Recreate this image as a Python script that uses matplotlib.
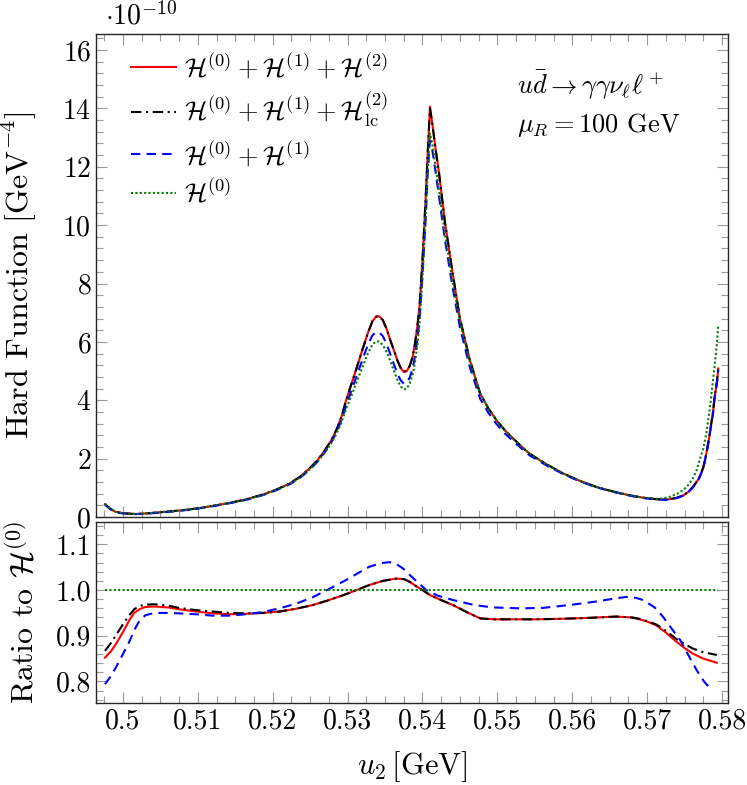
import numpy as np
import matplotlib
matplotlib.use("Agg")
import matplotlib.pyplot as plt
from matplotlib.ticker import MultipleLocator, FormatStrFormatter, FixedLocator

plt.rcParams['font.family'] = 'serif'
plt.rcParams['font.serif'] = ['cmr10']
plt.rcParams['mathtext.fontset'] = 'cm'
plt.rcParams['axes.formatter.use_mathtext'] = True
plt.rcParams['axes.unicode_minus'] = False

# ---- top panel: hard function (units of 1e-10 GeV^-4) ----
u_top = [0.4976, 0.4983, 0.4990, 0.5000, 0.5017, 0.5035, 0.5053, 0.5075, 0.5098, 0.5120,
         0.5142, 0.5165, 0.5187, 0.5205, 0.5222, 0.5236, 0.5249, 0.5260, 0.5270, 0.5278,
         0.5285, 0.5292, 0.5298, 0.5305, 0.5312, 0.5320, 0.5327, 0.5333, 0.5338, 0.5342,
         0.5347, 0.5352, 0.5357, 0.5362, 0.5367, 0.5371, 0.5375, 0.5379, 0.5383, 0.5387,
         0.5390, 0.5393, 0.5396, 0.5400, 0.5404, 0.5407, 0.5410, 0.5413, 0.5417, 0.5422,
         0.5430, 0.5440, 0.5450, 0.5463, 0.5477, 0.5488, 0.5499, 0.5510, 0.5521, 0.5532,
         0.5543, 0.5566, 0.5588, 0.5610, 0.5632, 0.5655, 0.5677, 0.5695, 0.5712, 0.5722,
         0.5730, 0.5740, 0.5748, 0.5755, 0.5761, 0.5766, 0.5770, 0.5775, 0.5779, 0.5782,
         0.5785, 0.5788, 0.5790, 0.5793, 0.5795]

h_full = [0.44, 0.28, 0.18, 0.13, 0.10, 0.13, 0.17, 0.22, 0.29, 0.38,
          0.48, 0.61, 0.77, 0.94, 1.14, 1.37, 1.66, 1.95, 2.30, 2.62,
          2.98, 3.45, 4.00, 4.55, 5.10, 5.75, 6.30, 6.70, 6.87, 6.88,
          6.75, 6.45, 6.06, 5.70, 5.33, 5.10, 4.97, 5.00, 5.18, 5.50,
          5.95, 6.50, 7.20, 8.80, 10.8, 12.5, 14.06, 13.5, 12.7, 11.8,
          10.1, 8.40, 6.80, 5.40, 4.23, 3.72, 3.31, 2.97, 2.69, 2.42,
          2.17, 1.80, 1.49, 1.24, 1.03, 0.87, 0.74, 0.66, 0.61, 0.60,
          0.61, 0.66, 0.74, 0.86, 1.03, 1.20, 1.37, 1.70, 2.17, 2.60,
          3.10, 3.60, 4.10, 4.60, 5.09]

h_lc = [0.44, 0.28, 0.18, 0.13, 0.10, 0.13, 0.17, 0.22, 0.29, 0.38,
        0.48, 0.61, 0.77, 0.94, 1.14, 1.37, 1.66, 1.95, 2.30, 2.62,
        2.98, 3.45, 4.00, 4.55, 5.10, 5.75, 6.30, 6.70, 6.86, 6.87,
        6.75, 6.45, 6.06, 5.70, 5.33, 5.10, 4.98, 5.01, 5.18, 5.50,
        5.95, 6.50, 7.20, 8.80, 10.8, 12.5, 14.0, 13.5, 12.7, 11.8,
        10.1, 8.40, 6.80, 5.40, 4.23, 3.72, 3.31, 2.97, 2.69, 2.42,
        2.17, 1.80, 1.49, 1.24, 1.03, 0.87, 0.74, 0.66, 0.61, 0.60,
        0.61, 0.66, 0.74, 0.86, 1.03, 1.20, 1.37, 1.70, 2.17, 2.60,
        3.10, 3.60, 4.10, 4.60, 5.09]

h_nlo = [0.42, 0.27, 0.17, 0.12, 0.10, 0.12, 0.16, 0.21, 0.28, 0.37,
         0.47, 0.59, 0.75, 0.92, 1.11, 1.33, 1.61, 1.90, 2.24, 2.55,
         2.90, 3.33, 3.82, 4.32, 4.83, 5.40, 5.90, 6.22, 6.34, 6.33,
         6.20, 5.93, 5.58, 5.22, 4.88, 4.68, 4.57, 4.60, 4.78, 5.10,
         5.50, 6.05, 6.75, 8.30, 10.1, 11.8, 12.9, 12.6, 11.9, 11.0,
         9.50, 7.90, 6.50, 5.15, 4.05, 3.57, 3.18, 2.86, 2.60, 2.35,
         2.11, 1.76, 1.47, 1.22, 1.02, 0.86, 0.73, 0.65, 0.60, 0.59,
         0.60, 0.65, 0.73, 0.85, 1.01, 1.18, 1.35, 1.68, 2.14, 2.57,
         3.05, 3.55, 4.05, 4.55, 5.02]

h_lo = [0.45, 0.29, 0.18, 0.13, 0.10, 0.13, 0.17, 0.22, 0.29, 0.38,
        0.48, 0.60, 0.76, 0.93, 1.12, 1.34, 1.62, 1.90, 2.22, 2.52,
        2.85, 3.25, 3.70, 4.15, 4.62, 5.15, 5.60, 5.90, 6.02, 6.01,
        5.90, 5.66, 5.35, 5.00, 4.67, 4.47, 4.37, 4.40, 4.58, 4.90,
        5.30, 5.85, 6.60, 8.20, 10.1, 11.9, 13.14, 12.8, 12.1, 11.2,
        9.70, 8.10, 6.70, 5.35, 4.23, 3.72, 3.31, 2.97, 2.69, 2.42,
        2.17, 1.80, 1.49, 1.24, 1.03, 0.87, 0.74, 0.66, 0.62, 0.64,
        0.69, 0.79, 0.92, 1.10, 1.32, 1.60, 1.94, 2.35, 2.86, 3.40,
        4.00, 4.70, 5.14, 5.90, 6.57]

# ---- bottom panel: ratio to H^(0) ----
u_rat = [0.4976, 0.4984, 0.4991, 0.5000, 0.50085, 0.5015, 0.5022, 0.5030, 0.5042, 0.5060,
         0.5075, 0.5098, 0.5120, 0.5142, 0.5164, 0.5187, 0.5209, 0.5231, 0.5253, 0.5275,
         0.5298, 0.5315, 0.5329, 0.5347, 0.5364, 0.5375, 0.5383, 0.5391, 0.5400, 0.5410,
         0.5425, 0.5441, 0.5460, 0.5477, 0.5495, 0.5517, 0.5550, 0.5583, 0.5620, 0.5659,
         0.5680, 0.5690, 0.5700, 0.5712, 0.5725, 0.5739, 0.5750, 0.5761, 0.5775, 0.5793]
r_full = [0.852, 0.866, 0.883, 0.908, 0.934, 0.950, 0.958, 0.963, 0.964, 0.962,
          0.958, 0.953, 0.949, 0.947, 0.948, 0.950, 0.953, 0.959, 0.967, 0.978,
          0.991, 1.002, 1.011, 1.020, 1.025, 1.024, 1.018, 1.009, 1.000, 0.989,
          0.978, 0.967, 0.951, 0.938, 0.936, 0.936, 0.936, 0.937, 0.939, 0.942,
          0.940, 0.936, 0.931, 0.923, 0.907, 0.887, 0.873, 0.861, 0.850, 0.841]
r_lc = [0.867, 0.884, 0.902, 0.925, 0.945, 0.958, 0.965, 0.968, 0.969, 0.966,
        0.961, 0.956, 0.953, 0.950, 0.949, 0.950, 0.953, 0.959, 0.967, 0.978,
        0.991, 1.002, 1.011, 1.020, 1.025, 1.024, 1.018, 1.009, 1.000, 0.989,
        0.978, 0.967, 0.951, 0.938, 0.936, 0.936, 0.936, 0.937, 0.939, 0.942,
        0.940, 0.937, 0.932, 0.925, 0.911, 0.893, 0.882, 0.872, 0.864, 0.858]

u_rat_nlo = [0.4976, 0.4984, 0.4991, 0.5000, 0.50085, 0.5015, 0.5022, 0.5030, 0.5042, 0.5060,
             0.5075, 0.5098, 0.5120, 0.5142, 0.5164, 0.5187, 0.5209, 0.5231, 0.5253, 0.5275,
             0.5298, 0.5315, 0.5329, 0.5345, 0.5356, 0.5365, 0.5375, 0.5383, 0.5395, 0.5405,
             0.5420, 0.5441, 0.5470, 0.5494, 0.5530, 0.5561, 0.5600, 0.5628, 0.5655, 0.5672,
             0.5685, 0.5695, 0.5710, 0.5721, 0.5733, 0.5744, 0.5755, 0.5766, 0.5776, 0.5786]
r_nlo = [0.794, 0.812, 0.832, 0.860, 0.887, 0.912, 0.933, 0.945, 0.950, 0.950,
         0.949, 0.947, 0.944, 0.944, 0.947, 0.952, 0.960, 0.970, 0.984, 1.002,
         1.022, 1.038, 1.051, 1.059, 1.061, 1.057, 1.046, 1.033, 1.015, 1.000,
         0.988, 0.978, 0.967, 0.962, 0.960, 0.961, 0.968, 0.974, 0.981, 0.985,
         0.983, 0.978, 0.962, 0.942, 0.915, 0.891, 0.858, 0.825, 0.800, 0.781]

u_rat_lo = [0.4976, 0.5795]
r_lo = [1.0, 1.0]

labels = [r'$\mathcal{H}^{(0)}+\mathcal{H}^{(1)}+\mathcal{H}^{(2)}$',
          r'$\mathcal{H}^{(0)}+\mathcal{H}^{(1)}+\mathcal{H}^{(2)}_{\mathrm{lc}}$',
          r'$\mathcal{H}^{(0)}+\mathcal{H}^{(1)}$',
          r'$\mathcal{H}^{(0)}$']

red = '#ff0000'
blk = 'black'
blu = '#0000ff'
grn = '#007f00'
lw = 1.5
fs_tick = 20
fs_lab = 23
fs_txt = 19
dashdot = (5, 2.2, 1, 2.2)
dashed = (4.5, 3)
dotted = (1, 1.1)

fig = plt.figure(figsize=(7.47, 7.85), dpi=100)
ax1 = fig.add_axes([0.1285, 0.3414, 0.8461, 0.6153])
ax2 = fig.add_axes([0.1285, 0.1045, 0.8461, 0.2306])

def style(ax):
    ax.tick_params(which='both', direction='in', top=True, right=True,
                   color='0.6', labelsize=fs_tick, width=0.8)
    ax.tick_params(which='major', length=8)
    ax.tick_params(which='minor', length=5)
    for s in ax.spines.values():
        s.set_linewidth(1.0)
        s.set_color('0.15')
    ax.set_xlim(0.4964, 0.5808)
    ax.xaxis.set_major_locator(MultipleLocator(0.01))
    ax.xaxis.set_minor_locator(MultipleLocator(0.0025))

# top panel
ax1.plot(u_top, h_full, color=red, lw=lw, label=labels[0])
ax1.plot(u_top, h_lc, color=blk, lw=lw, dashes=dashdot, label=labels[1])
ax1.plot(u_top, h_nlo, color=blu, lw=lw, dashes=dashed, label=labels[2])
ax1.plot(u_top, h_lo, color=grn, lw=lw, dashes=dotted, label=labels[3])
style(ax1)
ax1.set_ylim(0, 16.55)
ax1.yaxis.set_major_locator(MultipleLocator(2))
ax1.yaxis.set_minor_locator(MultipleLocator(0.4))
ax1.tick_params(axis='x', labelbottom=False)
ax1.set_ylabel(r'Hard Function [GeV$^{-4}$]', fontsize=fs_lab)
ax1.yaxis.set_label_coords(-0.09, 0.5)
fig.text(105 / 747, 1 - 16 / 785, r'$\cdot10^{-10}$', fontsize=fs_tick,
         ha='left', va='center')
ax1.text(0.666, 0.894, r'$u\bar{d}\rightarrow\gamma\gamma\nu_\ell\ell^+$',
         transform=ax1.transAxes, fontsize=fs_txt, va='center')
ax1.text(0.666, 0.812, r'$\mu_R = 100$ GeV', transform=ax1.transAxes,
         fontsize=fs_txt, va='center')
ax1.legend(loc='upper left', frameon=False, fontsize=fs_txt, handlelength=1.7,
           handletextpad=0.3, labelspacing=0.35, borderaxespad=0, borderpad=0,
           bbox_to_anchor=(0.055, 0.965))

# bottom panel
ax2.plot(u_rat, r_full, color=red, lw=lw)
ax2.plot(u_rat, r_lc, color=blk, lw=lw, dashes=dashdot)
ax2.plot(u_rat_nlo, r_nlo, color=blu, lw=lw, dashes=dashed)
ax2.plot(u_rat_lo, r_lo, color=grn, lw=lw, dashes=dotted)
style(ax2)
ax2.set_ylim(0.753, 1.149)
ax2.yaxis.set_major_locator(FixedLocator([0.8, 0.9, 1.0, 1.1]))
ax2.yaxis.set_minor_locator(MultipleLocator(0.02))
ax2.yaxis.set_major_formatter(FormatStrFormatter('%.1f'))
ax2.xaxis.set_major_formatter(FormatStrFormatter('%g'))
ax2.set_ylabel(r'Ratio to $\mathcal{H}^{(0)}$', fontsize=fs_lab)
ax2.yaxis.set_label_coords(-0.09, 0.5)
ax2.set_xlabel(r'$u_2\,$[GeV]', fontsize=22)
ax2.xaxis.set_label_coords(0.5, -0.255)

fig.savefig('out.png', dpi=100)
